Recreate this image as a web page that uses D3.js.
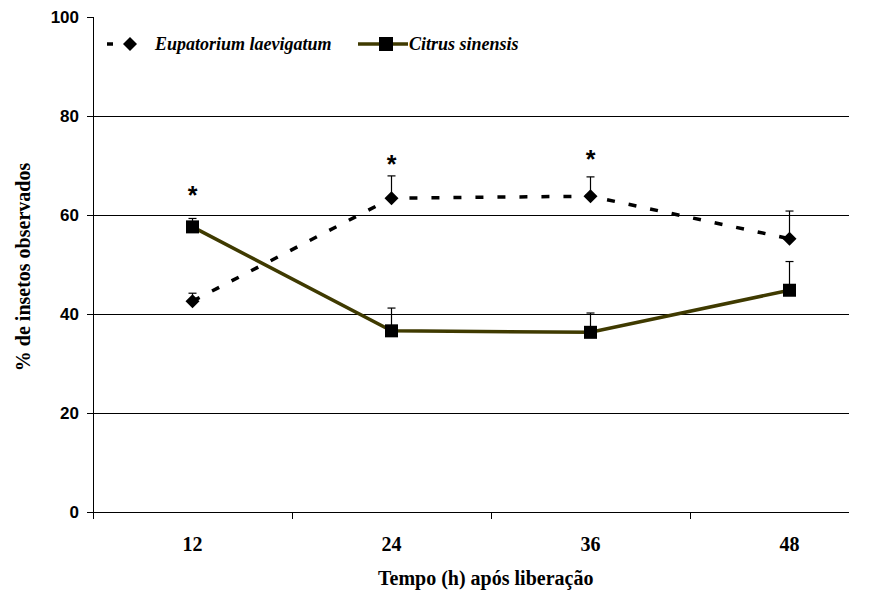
<!DOCTYPE html>
<html><head><meta charset="utf-8">
<script src="https://cdn.jsdelivr.net/npm/d3@7"></script>
<style>body{margin:0;background:#fff}</style>
</head><body>
<script>
const categories = ["12","24","36","48"];
const eupatorium = [42.6, 63.4, 63.8, 55.2];
const eupatoriumErr = [1.6, 4.5, 3.9, 5.6];
const citrus = [57.6, 36.6, 36.3, 44.8];
const citrusErr = [1.7, 4.6, 3.9, 5.8];
const asteriskCats = ["12","24","36"];
const asteriskLevel = [64.8, 71.1, 72.1];
const yTicks = [0,20,40,60,80,100];

(function(){
const SERIF='"Liberation Serif", Tinos, "Times New Roman", Times, "DejaVu Serif", "Noto Serif", serif';
const SANS='"Liberation Sans", Arimo, Arial, Helvetica, sans-serif';
const W=879,H=592;
const svg=d3.select("body").append("svg").attr("width",W).attr("height",H);
const pl=93,pr=849,pt=17,pb=512;
const band=199;
const x=d3.scaleBand().domain(categories).range([pl,pl+band*categories.length]);
const xc=c=>x(c)+x.bandwidth()/2;
const y=d3.scaleLinear().domain([0,100]).range([pb,pt]);
const serifText=(sel,size)=>sel.style("font-family",SERIF).style("font-weight","bold").style("font-size",size+"px");

// gridlines
svg.append("g").selectAll("line").data(yTicks.filter(t=>t>0&&t<100)).join("line")
 .attr("x1",pl).attr("x2",pr).attr("y1",d=>y(d)).attr("y2",d=>y(d))
 .attr("stroke","#000").attr("stroke-width",1).attr("shape-rendering","crispEdges");

// y axis
const ya=svg.append("g").attr("transform",`translate(${pl},0)`)
 .call(d3.axisLeft(y).tickValues(yTicks).tickSize(6).tickPadding(8));
ya.select(".domain").attr("stroke","#000").attr("shape-rendering","crispEdges");
ya.selectAll(".tick line").attr("stroke","#000").attr("shape-rendering","crispEdges");
ya.selectAll("text").style("font-family",SANS).style("font-weight","bold").style("font-size","17px").attr("fill","#000");

// x axis
const xa=svg.append("g").attr("transform",`translate(0,${pb})`);
xa.append("line").attr("x1",pl).attr("x2",pr).attr("y1",0).attr("y2",0).attr("stroke","#000").attr("shape-rendering","crispEdges");
xa.selectAll(".tk").data(categories).join("line").attr("class","tk")
 .attr("x1",d=>x(d)).attr("x2",d=>x(d)).attr("y1",0).attr("y2",7).attr("stroke","#000").attr("shape-rendering","crispEdges");
serifText(xa.selectAll("text").data(categories).join("text")
 .attr("x",d=>xc(d)).attr("y",39).attr("text-anchor","middle").text(d=>d),20);

// titles
serifText(svg.append("text").attr("x",378).attr("y",585).attr("text-anchor","start").text("Tempo (h) após liberação"),20);
serifText(svg.append("text").attr("transform","translate(30,267) rotate(-90)").attr("text-anchor","middle").text("% de insetos observados"),20);

// error bars
function errBars(vals,errs){
 const g=svg.append("g");
 categories.forEach((c,i)=>{
  const cx=xc(c);
  g.append("line").attr("x1",cx).attr("x2",cx).attr("y1",y(vals[i])).attr("y2",y(vals[i]+errs[i])).attr("stroke","#000").attr("stroke-width",1.2);
  g.append("line").attr("x1",cx-4).attr("x2",cx+4).attr("y1",y(vals[i]+errs[i])).attr("y2",y(vals[i]+errs[i])).attr("stroke","#000").attr("stroke-width",1.2);
 });
}
errBars(eupatorium,eupatoriumErr);
errBars(citrus,citrusErr);

const line=d3.line().x((d,i)=>xc(categories[i])).y(d=>y(d));
svg.append("path").datum(eupatorium).attr("d",line).attr("fill","none").attr("stroke","#000").attr("stroke-width",3.5).attr("stroke-dasharray","8,14");
svg.append("path").datum(citrus).attr("d",line).attr("fill","none").attr("stroke","#3f3a00").attr("stroke-width",3.5);

const diamond=(cx,cy,r)=>`M${cx},${cy-r}L${cx+r},${cy}L${cx},${cy+r}L${cx-r},${cy}Z`;
svg.append("g").selectAll("path").data(eupatorium).join("path")
 .attr("d",(d,i)=>diamond(xc(categories[i]),y(d),7)).attr("fill","#000");
svg.append("g").selectAll("rect").data(citrus).join("rect")
 .attr("x",(d,i)=>xc(categories[i])-6.5).attr("y",d=>y(d)-6.5).attr("width",13).attr("height",13).attr("fill","#000");

// asterisks
svg.append("g").selectAll("text").data(asteriskCats).join("text")
 .attr("x",d=>xc(d)).attr("y",(d,i)=>y(asteriskLevel[i])+13)
 .attr("text-anchor","middle").style("font-family",SANS).style("font-weight","bold").style("font-size","25px").text("*");

// legend
const lg=svg.append("g");
lg.append("line").attr("x1",107).attr("x2",113).attr("y1",44).attr("y2",44).attr("stroke","#000").attr("stroke-width",3.5);
lg.append("path").attr("d",diamond(130,44,7)).attr("fill","#000");
serifText(lg.append("text").attr("x",155).attr("y",50).style("font-style","italic").text("Eupatorium laevigatum"),18);
lg.append("line").attr("x1",358).attr("x2",408).attr("y1",44).attr("y2",44).attr("stroke","#3f3a00").attr("stroke-width",3.5);
lg.append("rect").attr("x",379).attr("y",37).attr("width",14).attr("height",14).attr("fill","#000");
serifText(lg.append("text").attr("x",409).attr("y",50).style("font-style","italic").text("Citrus sinensis"),18);
})();
</script>
</body></html>
